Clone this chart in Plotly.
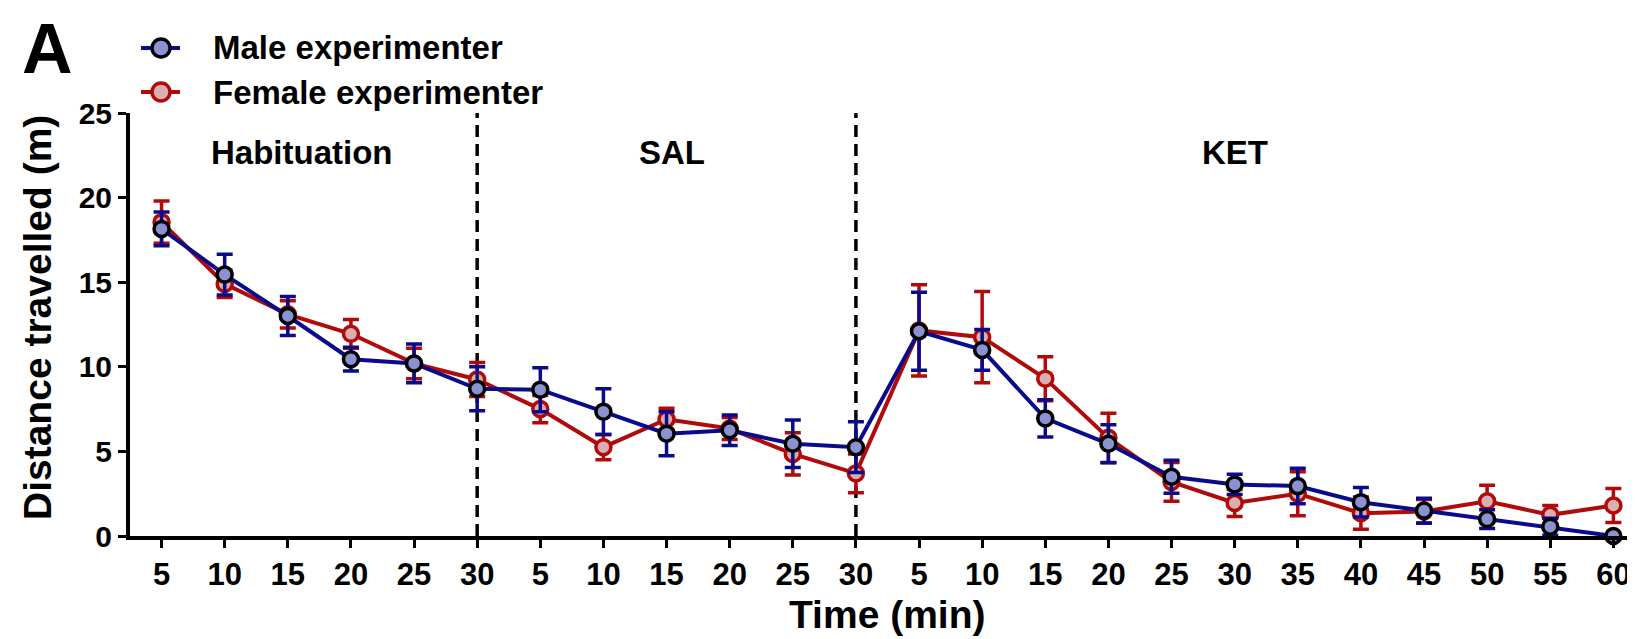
import plotly.graph_objects as go

# ---------------- data ----------------
tick_labels = ["5", "10", "15", "20", "25", "30",
               "5", "10", "15", "20", "25", "30",
               "5", "10", "15", "20", "25", "30", "35", "40", "45", "50", "55", "60"]
phases = ["Habituation", "SAL", "KET"]

male_mean = [18.15, 15.45, 13.0, 10.45, 10.2, 8.7,
             8.65, 7.35, 6.05, 6.25, 5.45, 5.25,
             12.1, 11.0, 6.95, 5.45, 3.5, 3.05, 2.95, 2.0, 1.5, 1.0, 0.55, 0.0]
male_sem = [1.0, 1.2, 1.15, 0.7, 1.15, 1.3,
            1.3, 1.35, 1.3, 0.9, 1.4, 1.5,
            2.3, 1.2, 1.1, 1.12, 0.97, 0.6, 1.05, 0.87, 0.73, 0.55, 0.5, 0.0]

female_mean = [18.55, 14.9, 13.1, 11.95, 10.2, 9.25,
               7.5, 5.25, 6.9, 6.35, 4.85, 3.7,
               12.15, 11.75, 9.3, 5.8, 3.2, 1.95, 2.5, 1.35, 1.45, 2.05, 1.25, 1.8]
female_sem = [1.25, 0.8, 0.8, 0.85, 0.9, 1.0,
              0.8, 0.75, 0.65, 0.65, 1.25, 1.15,
              2.7, 2.7, 1.3, 1.45, 1.15, 0.8, 1.3, 0.95, 0.7, 0.95, 0.55, 1.0]

x_idx = list(range(len(tick_labels)))

# ---------------- style ----------------
FONT = "Liberation Sans, Arial, Helvetica, sans-serif"
MALE_LINE = "#0A0A8C"
MALE_FILL = "#8A92D4"
FEM_LINE = "#B00A0A"
FEM_FILL = "#D9AFB1"

L, R, T, B = 122, 5, 105, 111
FW, FH = 1635, 639
PW, PH = FW - L - R, FH - T - B

def pxx(x):
    return (x - L) / PW

def pyy(y):
    return (FH - B - y) / PH

fig = go.Figure()

fig.add_trace(go.Scatter(
    x=x_idx, y=female_mean, mode="lines+markers", name="Female experimenter",
    line=dict(color=FEM_LINE, width=4),
    marker=dict(size=15, color=FEM_FILL, line=dict(color=FEM_LINE, width=3.5)),
    error_y=dict(type="data", array=female_sem, color=FEM_LINE, thickness=3.5, width=8),
    cliponaxis=False, showlegend=False))

fig.add_trace(go.Scatter(
    x=x_idx, y=male_mean, mode="lines+markers", name="Male experimenter",
    line=dict(color=MALE_LINE, width=4),
    marker=dict(size=15, color=MALE_FILL, line=dict(color="black", width=3.5)),
    error_y=dict(type="data", array=male_sem, color=MALE_LINE, thickness=3.5, width=8),
    cliponaxis=False, showlegend=False))

shapes = []
# phase separators
for xv in [5, 11]:
    shapes.append(dict(type="line", xref="x", yref="y", x0=xv, x1=xv, y0=0, y1=25,
                       line=dict(color="black", width=3.5, dash="12px,7px"), layer="below"))

# manual legend
legend_items = [("Male experimenter", MALE_LINE, MALE_FILL, "black", 40),
                ("Female experimenter", FEM_LINE, FEM_FILL, FEM_LINE, 84)]
annotations = []
for name, lc, fc, oc, ypix in legend_items:
    shapes.append(dict(type="line", xref="paper", yref="paper",
                       x0=pxx(133), x1=pxx(172), y0=pyy(ypix), y1=pyy(ypix),
                       line=dict(color=lc, width=4)))
    shapes.append(dict(type="circle", xref="paper", yref="paper",
                       xsizemode="pixel", ysizemode="pixel",
                       xanchor=pxx(153), yanchor=pyy(ypix),
                       x0=-9, x1=9, y0=-9, y1=9,
                       fillcolor=fc, line=dict(color=oc, width=3.5)))
    annotations.append(dict(text=name, xref="paper", yref="paper",
                            x=pxx(203), y=pyy(ypix), xanchor="left", yanchor="middle",
                            showarrow=False,
                            font=dict(family=FONT, size=33, color="black", weight="bold")))

# phase labels
phase_x = [2.21, 8.08, 17.0]
for name, xv in zip(phases, phase_x):
    annotations.append(dict(text=name, xref="x", yref="paper", x=xv, y=pyy(144),
                            xanchor="center", yanchor="middle", showarrow=False,
                            font=dict(family=FONT, size=33, color="black", weight="bold")))

# panel letter
annotations.append(dict(text="A", xref="paper", yref="paper", x=pxx(39), y=pyy(41),
                        xanchor="center", yanchor="middle", showarrow=False,
                        font=dict(family=FONT, size=70, color="black", weight="bold")))

# axis titles
annotations.append(dict(text="Time (min)", xref="paper", yref="paper", x=pxx(879), y=pyy(606),
                        xanchor="center", yanchor="middle", showarrow=False,
                        font=dict(family=FONT, size=39, color="black", weight="bold")))
annotations.append(dict(text="Distance travelled (m)", xref="paper", yref="paper",
                        x=pxx(29), y=pyy(310), textangle=-90,
                        xanchor="center", yanchor="middle", showarrow=False,
                        font=dict(family=FONT, size=39, color="black", weight="bold")))

fig.update_layout(
    width=FW, height=FH,
    margin=dict(l=L, r=R, t=T, b=B, pad=0, autoexpand=False),
    plot_bgcolor="white", paper_bgcolor="white",
    font=dict(family=FONT, color="black", weight="bold"),
    shapes=shapes, annotations=annotations,
    xaxis=dict(range=[-0.5, 23.39], tickmode="array", tickvals=x_idx, ticktext=tick_labels,
               automargin=False,
               showgrid=False, zeroline=False, showline=True, linecolor="black", linewidth=4,
               ticks="outside", ticklen=8, tickwidth=3, tickcolor="black",
               tickfont=dict(family=FONT, size=31, color="black", weight="bold")),
    yaxis=dict(range=[0, 25], tickvals=[0, 5, 10, 15, 20, 25], automargin=False,
               showgrid=False, zeroline=False, showline=True, linecolor="black", linewidth=4,
               ticks="outside", ticklen=8, tickwidth=3, tickcolor="black",
               tickfont=dict(family=FONT, size=30, color="black", weight="bold")),
)

fig.write_html("out.html")
